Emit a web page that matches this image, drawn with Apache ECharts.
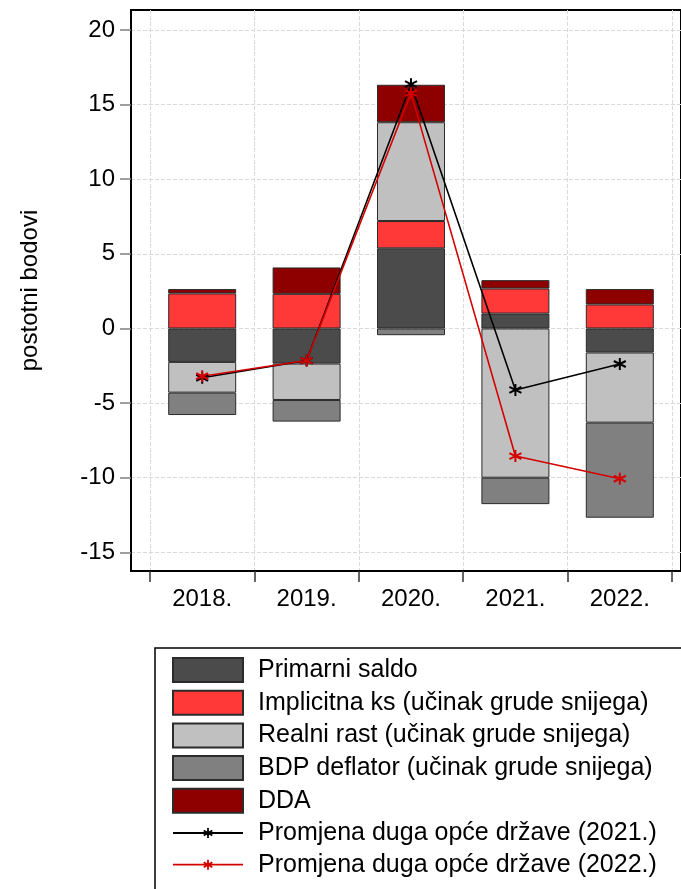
<!DOCTYPE html>
<html>
<head>
<meta charset="utf-8">
<script src="https://cdn.jsdelivr.net/npm/echarts@6/dist/echarts.min.js"></script>
<style>
html,body{margin:0;padding:0;background:#fff;}
#chart{width:681px;height:889px;}
</style>
</head>
<body>
<div id="chart"></div>
<script>
const categories = ['2018.', '2019.', '2020.', '2021.', '2022.'];
const primarniSaldo = [-2.24, -2.35, 5.37, 1.00, -1.61];
const implicitnaKs = [2.35, 2.32, 1.83, 1.68, 1.61];
const realniRast = [-2.06, -2.44, 6.62, -10.00, -4.70];
const bdpDeflator = [-1.50, -1.45, -0.45, -1.77, -6.37];
const dda = [0.29, 1.77, 2.51, 0.56, 1.03];
const promjena2021 = [-3.30, -2.15, 16.37, -4.12, -2.38];
const promjena2022 = [-3.20, -2.15, 15.77, -8.55, -10.07];
const yTickValues = [-15, -10, -5, 0, 5, 10, 15, 20];

const FONT = 'Liberation Sans, Arial, sans-serif';
const Y_MIN = -16.25, Y_MAX = 21.34;
const asterisk = 'path://M5,0L5,10M0.67,2.5L9.33,7.5M0.67,7.5L9.33,2.5';

function barSeries(name, arr, color) {
  return {
    name: name, type: 'bar', stack: 'total', barWidth: 68,
    xAxisIndex: 1, yAxisIndex: 1,
    data: arr,
    itemStyle: {color: color, borderColor: '#2b2b2b', borderWidth: 1},
    emphasis: {disabled: true}
  };
}
function lineSeries(name, arr, color) {
  return {
    name: name, type: 'line', data: arr, z: 5,
    xAxisIndex: 1, yAxisIndex: 1,
    symbol: asterisk, symbolSize: 12, showSymbol: true,
    lineStyle: {color: color, width: 1.6},
    itemStyle: {color: color, borderColor: color, borderWidth: 2},
    emphasis: {disabled: true}
  };
}
const lineIcon = 'path://M0,5L70,5M35,0L35,10M30.7,2.5L39.3,7.5M30.7,7.5L39.3,2.5';

const chart = echarts.init(document.getElementById('chart'), null, {renderer: 'canvas'});
chart.setOption({
  animation: false,
  backgroundColor: '#fff',
  textStyle: {fontFamily: FONT},
  grid: [
    {left: 131, right: -2, top: 10, bottom: 318, show: true, borderColor: '#000', borderWidth: 2, containLabel: false},
    {left: 150, right: 9, top: 10, bottom: 318, containLabel: false}
  ],
  xAxis: [
    {
      gridIndex: 0, type: 'value', min: 0, max: 1,
      axisLine: {show: true, onZero: false, lineStyle: {color: '#000', width: 2}},
      axisTick: {show: false}, axisLabel: {show: false}, splitLine: {show: false}
    },
    {
      gridIndex: 1, type: 'category', data: categories, boundaryGap: true,
      axisLine: {show: false, onZero: false},
      axisTick: {show: true, length: 11, lineStyle: {color: '#333', width: 1.5}},
      axisLabel: {show: true, fontSize: 24, color: '#000', margin: 16, fontFamily: FONT},
      splitLine: {show: true, lineStyle: {color: '#d9d9d9', type: 'dashed', width: 1}}
    }
  ],
  yAxis: [
    {
      gridIndex: 0, type: 'value', min: Y_MIN, max: Y_MAX,
      name: 'postotni bodovi', nameLocation: 'middle', nameGap: 89, nameRotate: 90,
      nameTextStyle: {fontSize: 24, color: '#000', fontFamily: FONT},
      axisLine: {show: true, onZero: false, lineStyle: {color: '#000', width: 2}},
      axisTick: {show: true, customValues: yTickValues, length: 11, lineStyle: {color: '#808080', width: 1.5}},
      axisLabel: {show: true, customValues: yTickValues, fontSize: 24, color: '#000', margin: 16, fontFamily: FONT},
      splitLine: {show: true, lineStyle: {color: '#d9d9d9', type: 'dashed', width: 1}}
    },
    {
      gridIndex: 1, type: 'value', min: Y_MIN, max: Y_MAX, show: false
    }
  ],
  legend: {
    orient: 'vertical', left: 155, top: 648, height: 262, width: 560,
    padding: [9, 40, 20, 17],
    itemWidth: 70, itemHeight: 24, itemGap: 6.7,
    borderColor: '#000', borderWidth: 1.5,
    textStyle: {fontSize: 25, lineHeight: 24, color: '#000', fontFamily: FONT, padding: [0, 0, 0, 10]},
    data: [
      {name: 'Primarni saldo', icon: 'rect'},
      {name: 'Implicitna ks (učinak grude snijega)', icon: 'rect'},
      {name: 'Realni rast (učinak grude snijega)', icon: 'rect'},
      {name: 'BDP deflator (učinak grude snijega)', icon: 'rect'},
      {name: 'DDA', icon: 'rect'},
      {name: 'Promjena duga opće države (2021.)', icon: lineIcon, itemStyle: {color: '#000', borderColor: '#000', borderWidth: 1.8}},
      {name: 'Promjena duga opće države (2022.)', icon: lineIcon, itemStyle: {color: '#d40000', borderColor: '#d40000', borderWidth: 1.8}}
    ]
  },
  series: [
    barSeries('Primarni saldo', primarniSaldo, '#4b4b4b'),
    barSeries('Implicitna ks (učinak grude snijega)', implicitnaKs, '#ff3838'),
    barSeries('Realni rast (učinak grude snijega)', realniRast, '#c0c0c0'),
    barSeries('BDP deflator (učinak grude snijega)', bdpDeflator, '#808080'),
    barSeries('DDA', dda, '#8e0000'),
    lineSeries('Promjena duga opće države (2021.)', promjena2021, '#000000'),
    lineSeries('Promjena duga opće države (2022.)', promjena2022, '#d40000')
  ]
});
</script>
</body>
</html>
